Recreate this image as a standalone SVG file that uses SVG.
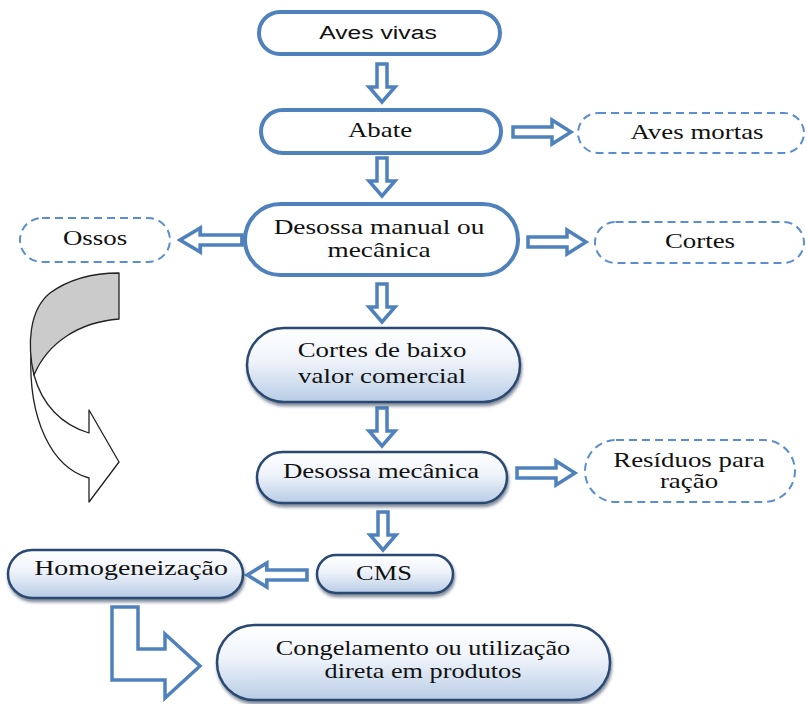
<svg xmlns="http://www.w3.org/2000/svg" width="807" height="704" viewBox="0 0 807 704">
<defs>
<style>
.solid{fill:#fff;stroke:#4f81bd;stroke-width:4}
.dash{fill:#fff;stroke:#5b8ed0;stroke-width:2;stroke-dasharray:8 5}
.grad{fill:url(#g);stroke:#2a4a72;stroke-width:2.5;filter:url(#sh)}
.arr{fill:#fff;stroke:#4f81bd;stroke-width:3.5;stroke-linejoin:miter}
.t{font-size:21px;fill:#111;text-anchor:middle}
.s{font-size:19px;fill:#111;text-anchor:middle}
.curve{stroke:#222;stroke-width:1.3;stroke-linejoin:round}
</style>
<linearGradient id="g" x1="0" y1="0" x2="0" y2="1">
<stop offset="0" stop-color="#ffffff"/>
<stop offset="0.45" stop-color="#eef3fa"/>
<stop offset="1" stop-color="#b8cce6"/>
</linearGradient>
<filter id="sh" x="-10%" y="-20%" width="120%" height="150%">
<feDropShadow dx="1" dy="3" stdDeviation="1.8" flood-color="#1a2f4d" flood-opacity="0.55"/>
</filter>
<path id="down" d="M-5,0 H5 V23 H13 L0,38 L-13,23 H-5 Z"/>
<path id="right" d="M0,-5 H39 V-12 L58,0 L39,12 V5 H0 Z"/>
</defs>

<g id="connectors">
<use href="#down" class="arr" x="382" y="64"/>
<use href="#down" class="arr" x="382" y="158"/>
<use href="#down" class="arr" x="382" y="284"/>
<use href="#down" class="arr" x="382" y="408"/>
<use href="#down" class="arr" x="383" y="512"/>
<use href="#right" class="arr" transform="translate(513,132)"/>
<use href="#right" class="arr" transform="translate(528,242)"/>
<use href="#right" class="arr" transform="translate(517,473)"/>
<use href="#right" class="arr" transform="translate(242,240) scale(-1.07,1)"/>
<use href="#right" class="arr" transform="translate(307,575) scale(-1.03,1)"/>
<path class="arr" d="M112,607 H138 V649 H165 V634 L200,666 L165,698 V680 H112 Z"/>
<g id="curved-arrow">
<path class="curve" fill="#fff" d="M31,352 C28,420 52,468 89,478 L89,502 L119,462 L89,410 L89,433 C62,425 42,405 34,375 Z"/>
<path class="curve" fill="#cbcbcb" d="M119,273 L119,319 C80,322 48,342 34,375 C27,345 29,310 50,293 C68,280 92,273 119,273 Z"/>
</g>
</g>

<g font-family="'Liberation Serif', 'DejaVu Serif', 'Times New Roman', serif">
<g id="aves-vivas">
<rect class="solid" x="259" y="12" width="241" height="42" rx="21"/>
<text class="s" font-family="'Liberation Sans', Arial, sans-serif" transform="translate(378,39) scale(1.3,1)">Aves vivas</text>
</g>
<g id="abate">
<rect class="solid" x="261" y="110" width="240" height="43" rx="21.5"/>
<text class="t" transform="translate(380,137) scale(1.28,1)">Abate</text>
</g>
<g id="aves-mortas">
<rect class="dash" x="578" y="113" width="226" height="40" rx="20"/>
<text class="t" transform="translate(697,139) scale(1.28,1)">Aves mortas</text>
</g>
<g id="desossa-manual">
<rect class="solid" x="245" y="204" width="273" height="71" rx="35.5"/>
<text class="t" transform="translate(379,234) scale(1.3,1)">Desossa manual ou</text>
<text class="t" transform="translate(379,257) scale(1.3,1)">mecânica</text>
</g>
<g id="ossos">
<rect class="dash" x="20" y="218" width="150" height="44" rx="22"/>
<text class="t" transform="translate(95,245) scale(1.28,1)">Ossos</text>
</g>
<g id="cortes">
<rect class="dash" x="595" y="222" width="209" height="41" rx="20.5"/>
<text class="t" transform="translate(700,248) scale(1.28,1)">Cortes</text>
</g>
<g id="cortes-baixo-valor">
<rect class="grad" x="247" y="328" width="273" height="74" rx="37"/>
<text class="t" transform="translate(382,357) scale(1.28,1)">Cortes de baixo</text>
<text class="t" transform="translate(382,383) scale(1.28,1)">valor comercial</text>
</g>
<g id="desossa-mecanica">
<rect class="grad" x="257" y="452" width="250" height="51" rx="25.5"/>
<text class="t" transform="translate(381,478) scale(1.28,1)">Desossa mecânica</text>
</g>
<g id="residuos">
<rect class="dash" x="585" y="440" width="210" height="62" rx="31"/>
<text class="t" transform="translate(689,467) scale(1.28,1)">Resíduos para</text>
<text class="t" transform="translate(689,488) scale(1.28,1)">ração</text>
</g>
<g id="cms">
<rect class="grad" x="317" y="555" width="136" height="38" rx="19"/>
<text class="t" transform="translate(384,580) scale(1.26,1)">CMS</text>
</g>
<g id="homogeneizacao">
<rect class="grad" x="8" y="550" width="235" height="48" rx="24"/>
<text class="t" transform="translate(131,575) scale(1.33,1)">Homogeneização</text>
</g>
<g id="congelamento">
<rect class="grad" x="217" y="625" width="393" height="75" rx="37.5"/>
<text class="t" transform="translate(423,655) scale(1.25,1)">Congelamento ou utilização</text>
<text class="t" transform="translate(423,678) scale(1.25,1)">direta em produtos</text>
</g>
</g>
</svg>
